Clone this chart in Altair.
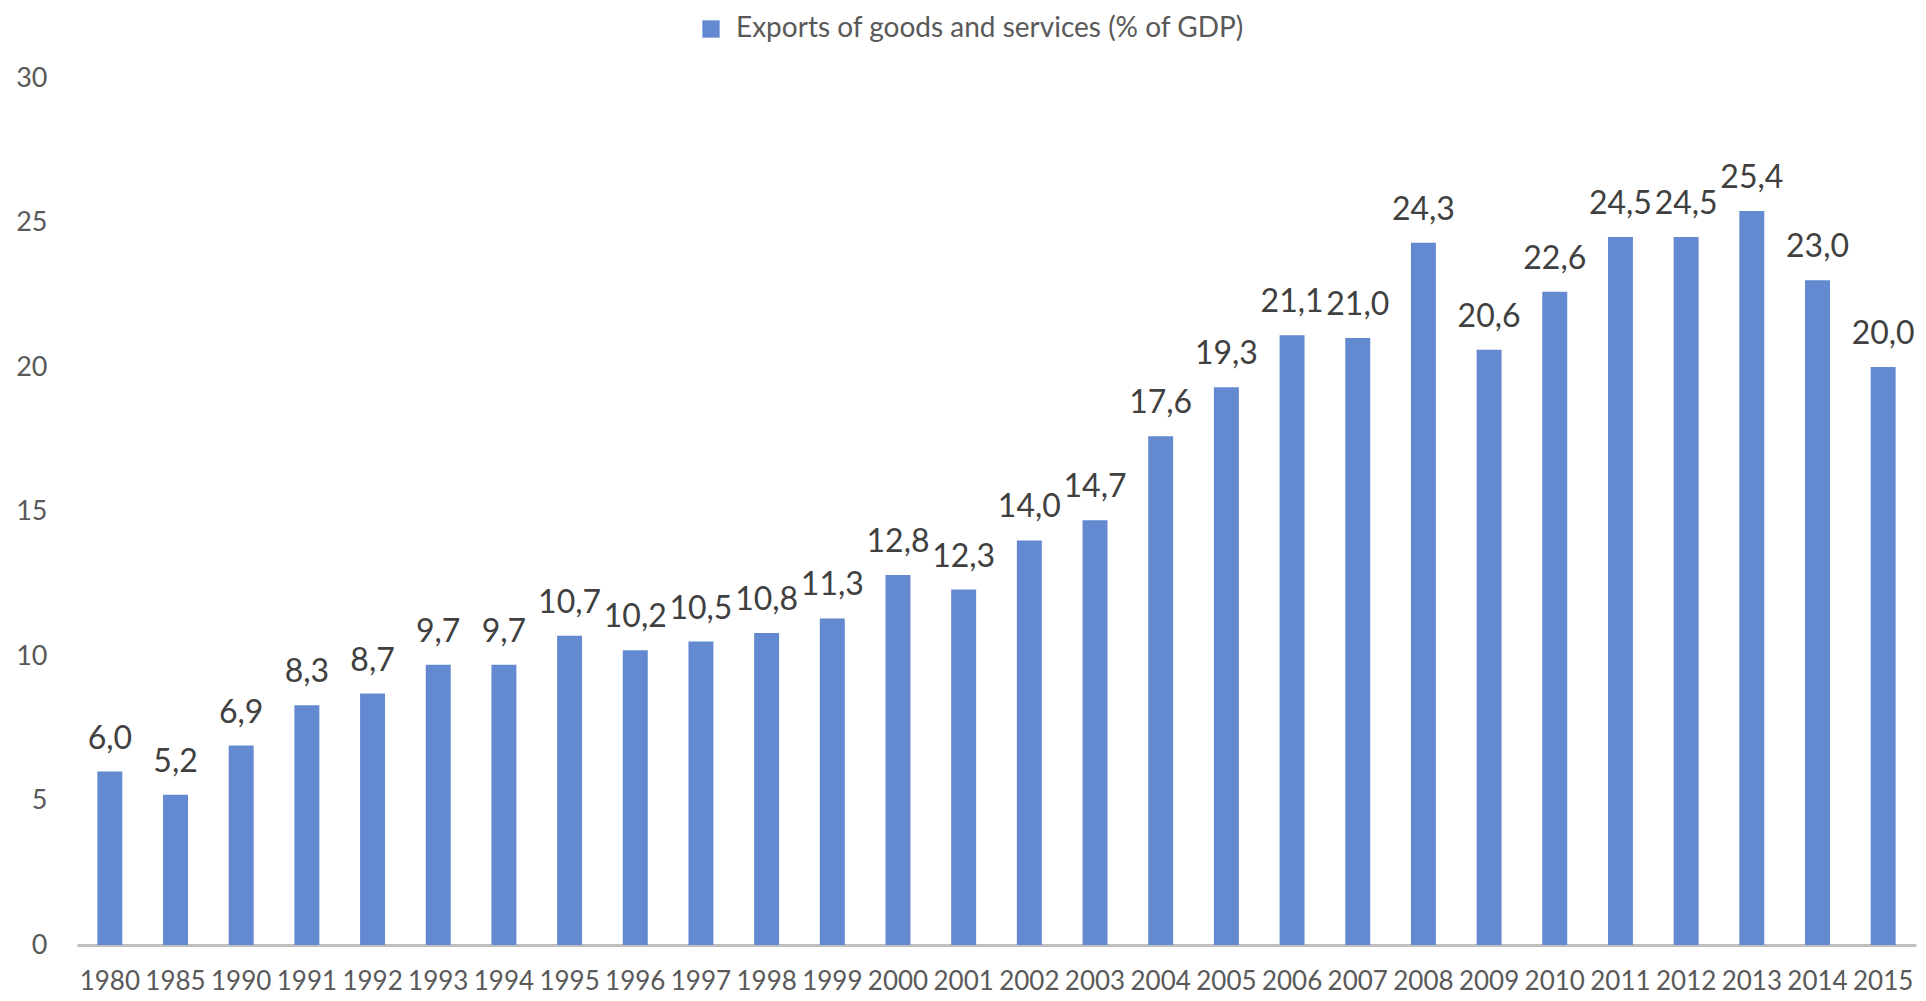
import altair as alt
import pandas as pd

years = ["1980", "1985", "1990", "1991", "1992", "1993", "1994", "1995", "1996",
         "1997", "1998", "1999", "2000", "2001", "2002", "2003", "2004", "2005",
         "2006", "2007", "2008", "2009", "2010", "2011", "2012", "2013", "2014", "2015"]
exports = [6.0, 5.2, 6.9, 8.3, 8.7, 9.7, 9.7, 10.7, 10.2, 10.5, 10.8, 11.3, 12.8, 12.3,
           14.0, 14.7, 17.6, 19.3, 21.1, 21.0, 24.3, 20.6, 22.6, 24.5, 24.5, 25.4, 23.0, 20.0]
series_name = "Exports of goods and services (% of GDP)"
y_ticks = [0, 5, 10, 15, 20, 25, 30]

df = pd.DataFrame({
    "year": years,
    "value": exports,
    "series": [series_name] * len(years),
    "label": [f"{v:.1f}".replace(".", ",") for v in exports],
})

FONT = "Lato"
BAR = "#6389D0"

base = alt.Chart(df)

x_enc = alt.X(
    "year:N",
    sort=years,
    scale=alt.Scale(paddingInner=0.62, paddingOuter=0.31),
    axis=alt.Axis(
        title=None, labelAngle=0, ticks=False, domainColor="#BFBFBF", domainWidth=3,
        labelFont=FONT, labelFontSize=26, labelColor="#595959", labelPadding=23,
    ),
)
y_enc = alt.Y(
    "value:Q",
    scale=alt.Scale(domain=[0, 30], nice=False),
    axis=alt.Axis(
        title=None, values=y_ticks, grid=False, domain=False, ticks=False,
        labelFont=FONT, labelFontSize=27, labelColor="#595959", labelPadding=30,
    ),
)

bars = base.mark_bar().encode(
    x=x_enc,
    y=y_enc,
    color=alt.Color(
        "series:N",
        scale=alt.Scale(range=[BAR]),
        legend=alt.Legend(
            title=None, orient="none", legendX=620, legendY=-63, padding=0,
            symbolType="square", symbolSize=300, symbolStrokeWidth=0,
            labelFont=FONT, labelFontSize=28, labelColor="#595959", labelOffset=11,
            labelLimit=0,
        ),
    ),
)

labels = base.mark_text(
    font=FONT, fontSize=32, color="#404040", baseline="middle", dy=-33
).encode(
    x=alt.X("year:N", sort=years),
    y=alt.Y("value:Q"),
    text="label:N",
)

chart = (
    alt.layer(bars, labels)
    .properties(
        width=1839,
        height=867,
        padding={"left": 69, "top": 70, "right": 2, "bottom": 53},
        autosize=alt.AutoSizeParams(type="none"),
        background="white",
    )
    .configure_view(strokeWidth=0, stroke="transparent")
)

chart.save("out.html", embed_options={"renderer": "svg", "actions": False})
